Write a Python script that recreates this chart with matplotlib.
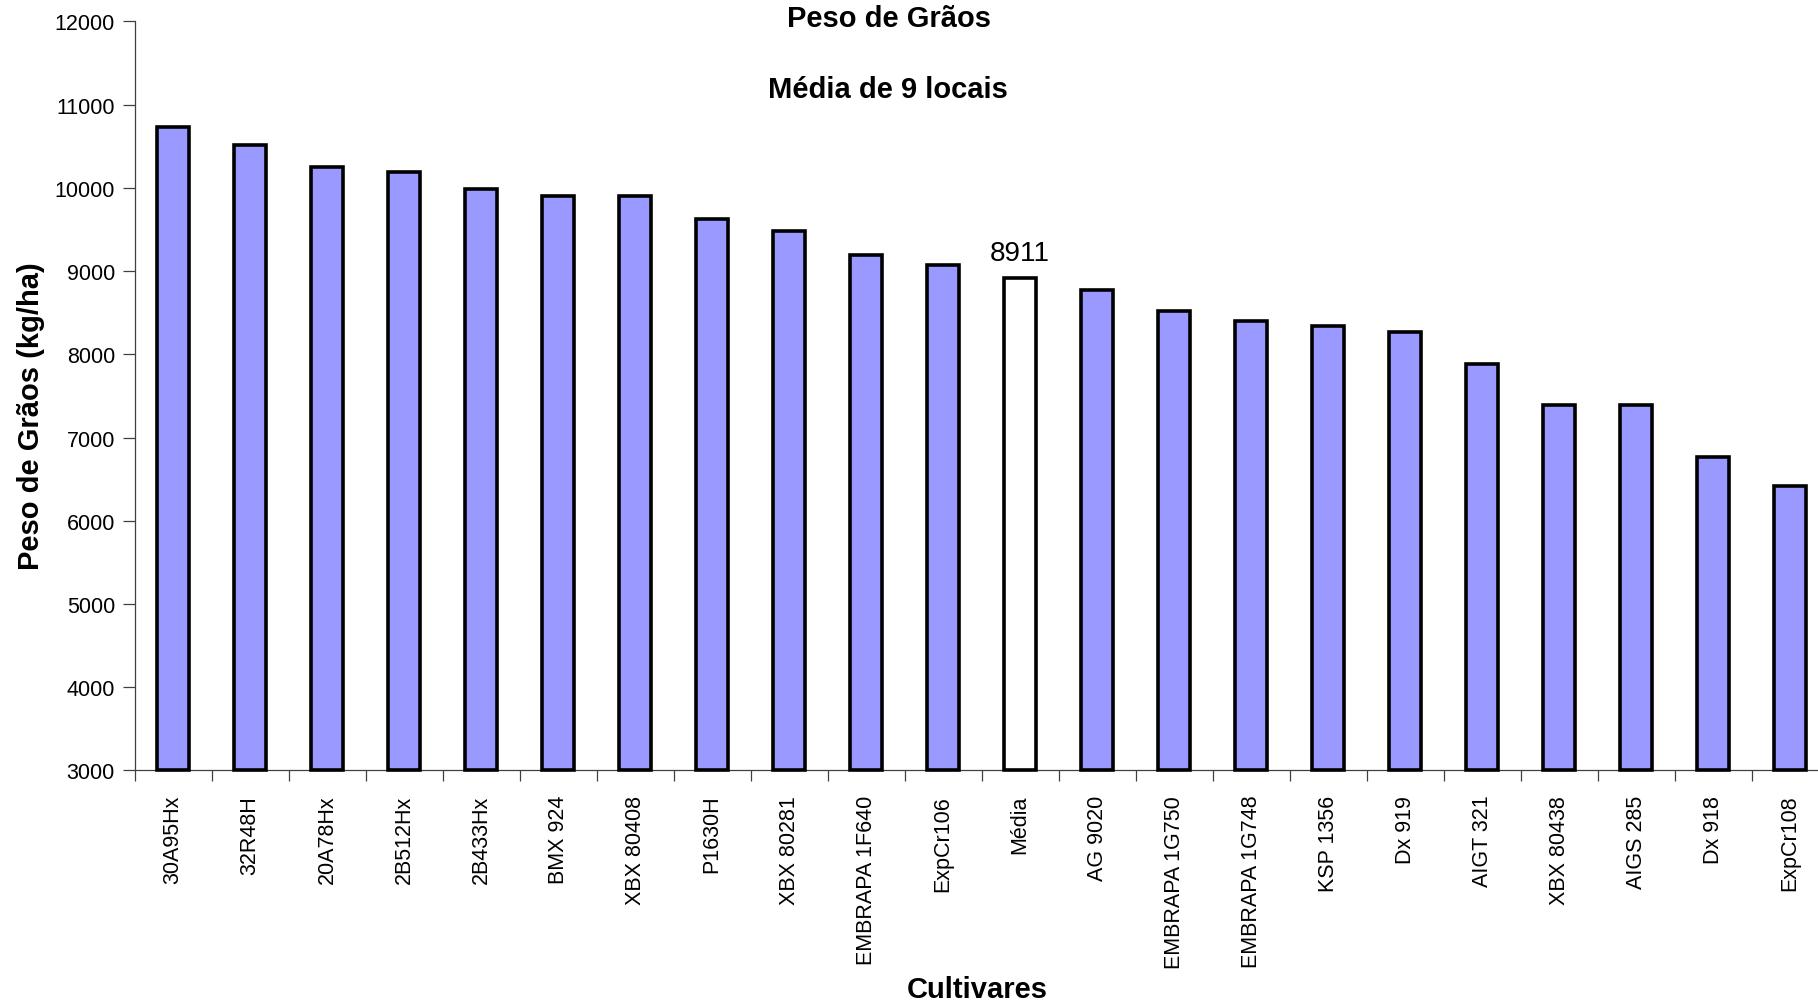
"""
plot.py - Peso de Grãos, média de 9 locais
"""
import matplotlib
matplotlib.use('Agg')
import matplotlib.pyplot as plt
from matplotlib.ticker import FixedLocator

# Dados do gráfico
cultivares = ['30A95Hx', '32R48H', '20A78Hx', '2B512Hx', '2B433Hx', 'BMX 924',
              'XBX 80408', 'P1630H', 'XBX 80281', 'EMBRAPA 1F640', 'ExpCr106',
              'Média', 'AG 9020', 'EMBRAPA 1G750', 'EMBRAPA 1G748', 'KSP 1356',
              'Dx 919', 'AIGT 321', 'XBX 80438', 'AIGS 285', 'Dx 918', 'ExpCr108']
peso = [10730, 10515, 10255, 10195, 9980, 9905,
        9905, 9630, 9485, 9195, 9075,
        8911, 8775, 8515, 8405, 8335,
        8265, 7885, 7392, 7390, 6767, 6418]
media_label = 'Média'
y_min, y_max = 3000, 12000
y_ticks = list(range(3000, 12001, 1000))

COR_BARRA = '#9999FF'
COR_MEDIA = '#FFFFFF'

plt.rcParams['font.family'] = ['Liberation Sans', 'DejaVu Sans']

fig = plt.figure(figsize=(18.18, 10.04), dpi=100)
ax = fig.add_axes([0.074, 0.2316, 0.9318, 0.7462])

x = [i + 0.5 for i in range(len(cultivares))]
cores = [COR_MEDIA if c == media_label else COR_BARRA for c in cultivares]
alturas = [p - y_min for p in peso]
bars = ax.bar(x, alturas, bottom=y_min, width=0.41, color=cores,
              edgecolor='black', linewidth=2.6, clip_on=False, zorder=3)

# Rótulo da média
i_media = cultivares.index(media_label)
ax.annotate(f"{peso[i_media]}", (x[i_media], peso[i_media]),
            xytext=(0, 9), textcoords='offset points',
            ha='center', va='bottom', fontsize=20)

ax.set_xlim(0, len(cultivares))
ax.set_ylim(y_min, y_max)

for s in ['top', 'right']:
    ax.spines[s].set_visible(False)
for s in ['left', 'bottom']:
    ax.spines[s].set_color('#404040')
    ax.spines[s].set_linewidth(0.9)

ax.set_xticks(x)
ax.set_xticklabels(cultivares, rotation=90, fontsize=15.5)
ax.xaxis.set_minor_locator(FixedLocator(range(len(cultivares) + 1)))
ax.tick_params(axis='x', which='major', length=0, pad=17.5)
ax.tick_params(axis='x', which='minor', length=8, width=0.9, color='#404040',
               direction='out')

ax.set_yticks(y_ticks)
ax.set_yticklabels([str(t) for t in y_ticks], fontsize=15.5)
ax.tick_params(axis='y', length=8.6, width=0.9, color='#404040', pad=5.5)

fig.text(0.4888, 0.981, 'Peso de Grãos', ha='center', va='center',
         fontsize=21, fontweight='bold')
fig.text(0.4885, 0.910, 'Média de 9 locais', ha='center', va='center',
         fontsize=21, fontweight='bold')
fig.text(0.0168, 0.586, 'Peso de Grãos (kg/ha)', rotation=90, ha='center',
         va='center', fontsize=21, fontweight='bold')
fig.text(0.5375, 0.0140, 'Cultivares', ha='center', va='center',
         fontsize=21, fontweight='bold')

fig.savefig('out.png', dpi=100)
